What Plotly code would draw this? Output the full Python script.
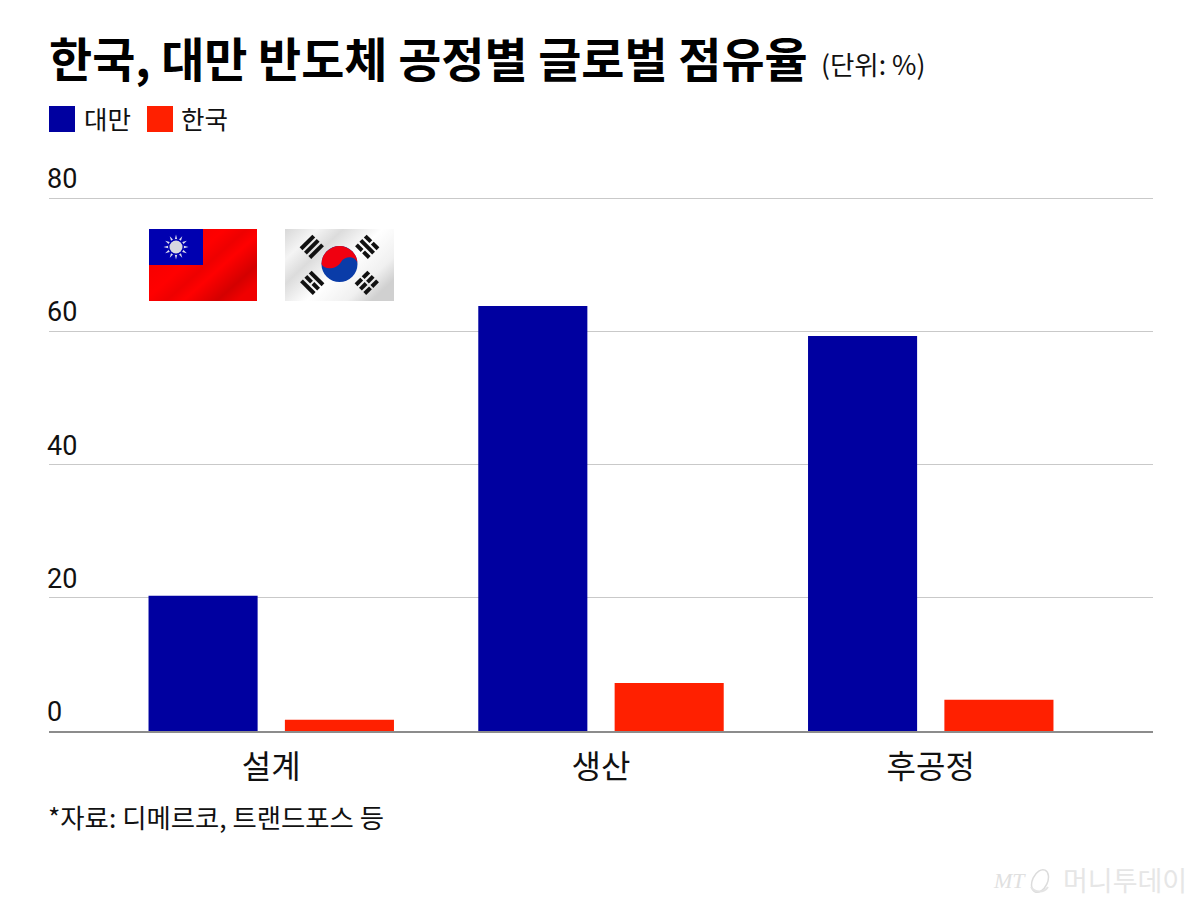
import base64
import plotly.graph_objects as go

# 자료: 디메르코, 트랜드포스 등
categories = ['설계', '생산', '후공정']
taiwan = [20.3, 63.8, 59.3]
korea = [1.7, 7.2, 4.7]
y_ticks = [0, 20, 40, 60, 80]

BLUE = '#0000a0'
RED = '#ff2000'
FONT = 'Noto Sans CJK KR'
W, H = 1200, 905
# Plot area in picture pixels, the top is a little above the 80 gridline so that it gets drawn
LEFT, RIGHT, TOP, BOTTOM = 49, 1153, 196, 731
Y_TOP = (BOTTOM - TOP) / 6.6625


def svg_uri(svg):
    return 'data:image/svg+xml;base64,' + base64.b64encode(svg.encode('utf-8')).decode('ascii')


# Paper coordinates are relative to the plot area, so convert from picture pixels
def px_x(v):
    return (v - LEFT) / (RIGHT - LEFT)


def px_y(v):
    return (BOTTOM - v) / (BOTTOM - TOP)


# Flags drawn as small inline svg, the wavy shading is only a gradient
rays = ''.join(
    f'<polygon points="27,5.5 25.6,11 28.4,11" fill="#dcdcf0" transform="rotate({a} 27 18)"/>'
    for a in range(0, 360, 30)
)
taiwan_flag = f'''<svg xmlns="http://www.w3.org/2000/svg" width="108" height="72" viewBox="0 0 108 72">
<defs><linearGradient id="g" x1="0" y1="0" x2="1" y2="0.75">
<stop offset="0" stop-color="#ee0000"/><stop offset="0.45" stop-color="#ff0000"/>
<stop offset="0.58" stop-color="#ee0000"/><stop offset="0.68" stop-color="#ff0000"/>
<stop offset="0.88" stop-color="#d40000"/><stop offset="1" stop-color="#f00000"/></linearGradient></defs>
<rect width="108" height="72" fill="url(#g)"/>
<rect width="54" height="36" fill="#0000b0"/>
{rays}
<circle cx="27" cy="18" r="8" fill="#0000b0"/>
<circle cx="27" cy="18" r="6.5" fill="#d8d8e0"/>
</svg>'''


def trigram(cx, cy, angle, broken):
    parts = []
    for i, b in enumerate(broken):
        y = -8.5 + i * 6.2
        if b:
            parts.append(f'<rect x="-9" y="{y}" width="8" height="4"/><rect x="1" y="{y}" width="8" height="4"/>')
        else:
            parts.append(f'<rect x="-9" y="{y}" width="18" height="4"/>')
    return f'<g transform="translate({cx} {cy}) rotate({angle})" fill="#111">' + ''.join(parts) + '</g>'


korea_flag = f'''<svg xmlns="http://www.w3.org/2000/svg" width="109" height="72" viewBox="0 0 109 72">
<defs><linearGradient id="w" x1="0" y1="0" x2="1" y2="0.7">
<stop offset="0" stop-color="#d8d8d8"/><stop offset="0.2" stop-color="#f4f4f4"/>
<stop offset="0.36" stop-color="#dcdcdc"/><stop offset="0.6" stop-color="#ffffff"/>
<stop offset="0.85" stop-color="#f0f0f0"/><stop offset="1" stop-color="#d0d0d0"/></linearGradient></defs>
<rect width="109" height="72" fill="url(#w)"/>
<circle cx="54.5" cy="35" r="18" fill="#0a3ca8"/>
<path d="M36.5 35 A18 18 0 0 1 72.5 35 C72 27 60 26 56 33 C52 40 40 42 36.5 35 Z" fill="#f00010"/>
{trigram(27, 18, -45, [0, 0, 0])}
{trigram(82, 18, 45, [1, 0, 1])}
{trigram(27, 54, 45, [0, 1, 0])}
{trigram(82, 54, -45, [1, 1, 1])}
</svg>'''

ring = '''<svg xmlns="http://www.w3.org/2000/svg" width="24" height="26" viewBox="0 0 24 26">
<ellipse cx="12" cy="13" rx="7.5" ry="12" fill="none" stroke="#dcdcdc" stroke-width="1.5" transform="rotate(25 12 13)"/>
<path d="M3 19 C7 25 16 25 20 19" fill="none" stroke="#e4e4e4" stroke-width="2"/>
</svg>'''

fig = go.Figure()
fig.add_bar(x=categories, y=taiwan, name='대만', marker_color=BLUE, marker_line_width=0)
fig.add_bar(x=categories, y=korea, name='한국', marker_color=RED, marker_line_width=0)

annotations = [
    dict(text='<b>한국, 대만 반도체 공정별 글로벌 점유율</b>', x=47, y=57, size=46.9, color='#000000', family=FONT),
    dict(text='(단위: %)', x=819, y=64, size=26.5, color='#111111', family=FONT),
    dict(text='대만', x=82, y=117, size=25.5, color='#111111', family=FONT),
    dict(text='한국', x=179, y=117, size=25.5, color='#111111', family=FONT),
    dict(text='*자료: 디메르코, 트랜드포스 등', x=46, y=816, size=26.4, color='#111111', family=FONT),
    dict(text='<i>MT</i>', x=991, y=880, size=22, color='#e0e0e0', family='Liberation Serif'),
    dict(text='머니투데이', x=1061, y=879, size=27, color='#e6e6e6', family=FONT),
]
ann = [
    dict(text=a['text'], x=px_x(a['x']), y=px_y(a['y']), xref='paper', yref='paper', yanchor='middle',
         xanchor='left', showarrow=False, font=dict(family=a['family'], size=a['size'], color=a['color']))
    for a in annotations
]
# Tick labels sit above their gridlines, so they are annotations rather than axis labels
for t in y_ticks:
    ann.append(dict(text=str(t), x=0, y=t, xref='paper', yref='y', xanchor='left', yanchor='bottom',
                    yshift=1, xshift=-4, showarrow=False,
                    font=dict(family='Roboto', size=27, color='#111111')))

shapes = [
    dict(type='rect', xref='paper', yref='paper', x0=px_x(49), x1=px_x(75), y0=px_y(132), y1=px_y(106),
         fillcolor=BLUE, line_width=0),
    dict(type='rect', xref='paper', yref='paper', x0=px_x(147), x1=px_x(173), y0=px_y(132), y1=px_y(106),
         fillcolor=RED, line_width=0),
]


def place_image(svg, x, y, w, h):
    return dict(source=svg_uri(svg), xref='paper', yref='paper', x=px_x(x), y=px_y(y),
                sizex=w / (RIGHT - LEFT), sizey=h / (BOTTOM - TOP), xanchor='left', yanchor='top',
                sizing='stretch', layer='above')


images = [
    place_image(taiwan_flag, 149, 229, 108, 72),
    place_image(korea_flag, 285, 229, 109, 72),
    place_image(ring, 1028, 868, 24, 26),
]

fig.update_layout(
    width=W, height=H,
    margin=dict(l=LEFT, r=W - RIGHT, t=TOP, b=H - BOTTOM, pad=0),
    paper_bgcolor='white', plot_bgcolor='white',
    barmode='group', bargap=0.173, bargroupgap=0.2,
    showlegend=False,
    annotations=ann, shapes=shapes, images=images,
    font=dict(family=FONT),
)
fig.update_xaxes(range=[-0.674, 2.674], showgrid=False, showline=True, linecolor='#8c8c8c', linewidth=1.5,
                 ticks='', ticklabelstandoff=7, tickfont=dict(family=FONT, size=32, color='#111111'))
fig.update_yaxes(range=[0, Y_TOP], tickvals=y_ticks, showticklabels=False, showgrid=True, gridcolor='#c9c9c9',
                 gridwidth=1, zeroline=False, ticks='')

# Browser default body margin would shift the whole figure by 8px
fig.write_html('out.html', config={'displayModeBar': False},
               post_script="document.body.style.margin='0';")
